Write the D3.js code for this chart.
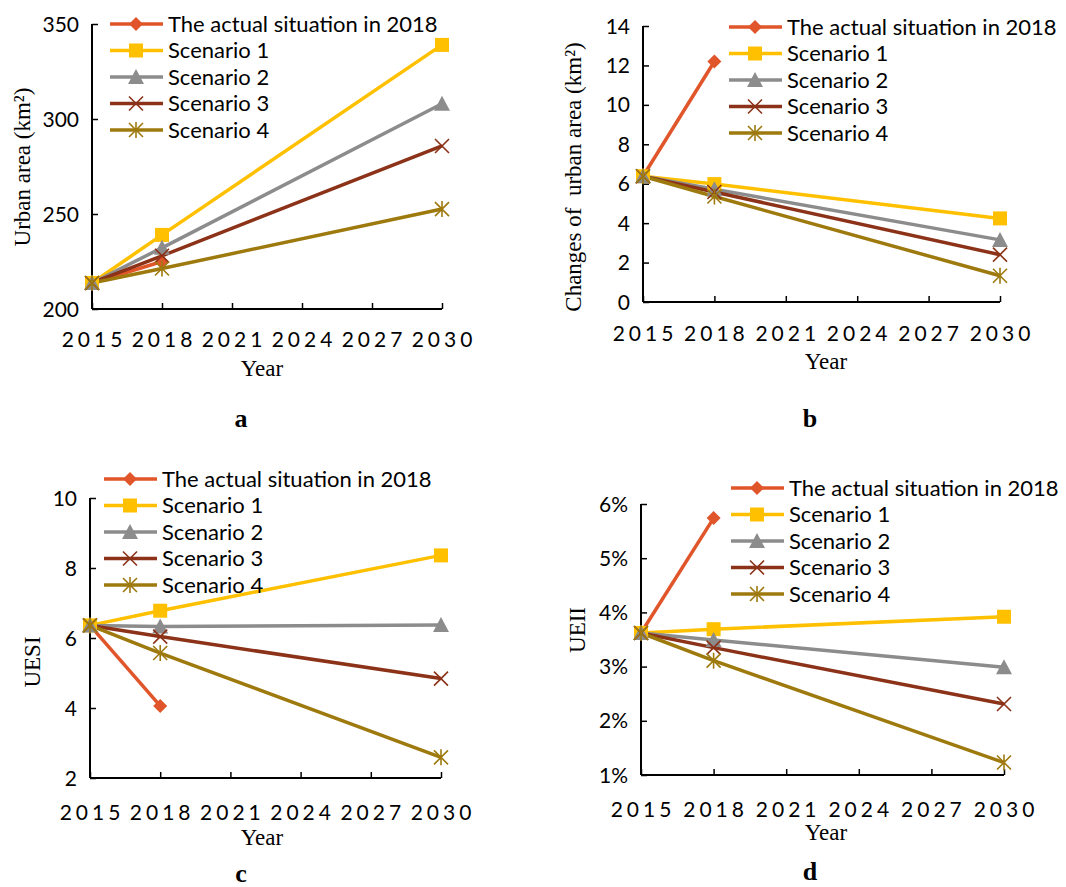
<!DOCTYPE html>
<html>
<head>
<meta charset="utf-8">
<script src="https://cdn.jsdelivr.net/npm/d3@7"></script>
<style>
  body { margin: 0; background: #fff; }
  svg { display: block; }
</style>
</head>
<body>
<div id="chart"></div>
<script>
// ---- data ----
const years = [2015, 2018, 2030];
const xTicks = [2015, 2018, 2021, 2024, 2027, 2030];
const seriesNames = ['The actual situation in 2018', 'Scenario 1', 'Scenario 2', 'Scenario 3', 'Scenario 4'];

// a: urban area (km²)
const areaActual = [213.7, 225.0];
const areaS1 = [213.7, 239.0, 339.0];
const areaS2 = [213.7, 232.2, 308.0];
const areaS3 = [213.7, 228.0, 285.8];
const areaS4 = [213.7, 221.3, 252.6];
const areaTicks = [200, 250, 300, 350];

// b: changes of urban area (km²)
const changeActual = [6.38, 12.2];
const changeS1 = [6.38, 5.98, 4.24];
const changeS2 = [6.38, 5.72, 3.15];
const changeS3 = [6.38, 5.58, 2.4];
const changeS4 = [6.38, 5.35, 1.33];
const changeTicks = [0, 2, 4, 6, 8, 10, 12, 14];

// c: UESI
const uesiActual = [6.36, 4.06];
const uesiS1 = [6.36, 6.78, 8.36];
const uesiS2 = [6.36, 6.33, 6.37];
const uesiS3 = [6.36, 6.04, 4.84];
const uesiS4 = [6.36, 5.57, 2.59];
const uesiTicks = [2, 4, 6, 8, 10];

// d: UEII
const ueiiActual = [0.0362, 0.0574];
const ueiiS1 = [0.0362, 0.0369, 0.0392];
const ueiiS2 = [0.0362, 0.0349, 0.0299];
const ueiiS3 = [0.0362, 0.0335, 0.0231];
const ueiiS4 = [0.0362, 0.0311, 0.0123];
const ueiiTicks = [0.01, 0.02, 0.03, 0.04, 0.05, 0.06];

const colors = ['#e0552a', '#ffc000', '#8c8c8c', '#8b3218', '#9e7a0e'];
const markers = ['diamond', 'square', 'triangle', 'cross', 'star'];

const panels = [
  { label: 'a', series: [areaActual, areaS1, areaS2, areaS3, areaS4], ticks: areaTicks, fmt: d3.format('d'),
    yTitle: 'Urban area (km²)', box: [92, 442, 24, 309], legend: [110, 24], labelPos: [241, 418],
    yTitlePos: [22, 167], xTitlePos: [262, 368], tickY: 347 },
  { label: 'b', series: [changeActual, changeS1, changeS2, changeS3, changeS4], ticks: changeTicks, fmt: d3.format('d'),
    yTitle: 'Changes of  urban area (km²)', box: [643, 1000, 26, 302], legend: [729, 27], labelPos: [810, 418],
    yTitlePos: [573, 177], xTitlePos: [826, 361], tickY: 341 },
  { label: 'c', series: [uesiActual, uesiS1, uesiS2, uesiS3, uesiS4], ticks: uesiTicks, fmt: d3.format('d'),
    yTitle: 'UESI', box: [90, 441, 498, 778], legend: [104, 479], labelPos: [241, 873],
    yTitlePos: [32, 662], xTitlePos: [262, 837], tickY: 820 },
  { label: 'd', series: [ueiiActual, ueiiS1, ueiiS2, ueiiS3, ueiiS4], ticks: ueiiTicks, fmt: d3.format('.0%'),
    yTitle: 'UEII', box: [641, 1004, 504, 775], legend: [731, 488], labelPos: [810, 871],
    yTitlePos: [577, 630], xTitlePos: [826, 832], tickY: 817 }
];

const svg = d3.select('#chart').append('svg')
  .attr('width', 1066)
  .attr('height', 887);

const sansFont = 'Lato, "Open Sans", sans-serif';
const serifFont = '"Liberation Serif", "DejaVu Serif", serif';

function drawMarker(g, type, color, x, y) {
  const s = 7;
  if (type === 'diamond') {
    g.append('path').attr('d', `M${x},${y - s}L${x + s},${y}L${x},${y + s}L${x - s},${y}Z`).attr('fill', color);
  } else if (type === 'square') {
    g.append('rect').attr('x', x - s).attr('y', y - s).attr('width', 2 * s).attr('height', 2 * s).attr('fill', color);
  } else if (type === 'triangle') {
    g.append('path').attr('d', `M${x},${y - s - 1}L${x + s + 1},${y + s}L${x - s - 1},${y + s}Z`).attr('fill', color);
  } else if (type === 'cross') {
    g.append('path').attr('d', `M${x - s},${y - s}L${x + s},${y + s}M${x + s},${y - s}L${x - s},${y + s}`)
      .attr('stroke', color).attr('stroke-width', 1.6);
  } else if (type === 'star') {
    g.append('path').attr('d', `M${x - s},${y - s}L${x + s},${y + s}M${x + s},${y - s}L${x - s},${y + s}M${x},${y - s - 1}L${x},${y + s + 1}`)
      .attr('stroke', color).attr('stroke-width', 1.6);
  }
}

panels.forEach(p => {
  const [x0, x1, y0, y1] = p.box;
  const g = svg.append('g');

  const x = d3.scaleLinear().domain([2015, 2030]).range([x0, x1]);
  const y = d3.scaleLinear().domain(d3.extent(p.ticks)).range([y1, y0]);

  // Y axis (ticks point inward)
  const yAxis = g.append('g')
    .attr('transform', `translate(${x0},0)`)
    .call(d3.axisRight(y).tickValues(p.ticks).tickSize(6).tickFormat(''));
  yAxis.select('.domain').attr('stroke', '#000').attr('stroke-width', 2).attr('d', `M0,${y0}V${y1}`);
  yAxis.selectAll('.tick line').attr('stroke', '#000').attr('stroke-width', 1.5);

  g.selectAll('.ylab')
    .data(p.ticks)
    .enter()
    .append('text')
    .attr('x', x0 - 13)
    .attr('y', d => y(d) + 7.5)
    .attr('text-anchor', 'end')
    .style('font-family', sansFont)
    .style('font-size', '21px')
    .attr('fill', '#000')
    .text(d => p.fmt(d));

  // X axis
  const xAxis = g.append('g')
    .attr('transform', `translate(0,${y1})`)
    .call(d3.axisTop(x).tickValues(xTicks).tickSize(6).tickFormat(''));
  xAxis.select('.domain').attr('stroke', '#000').attr('stroke-width', 2).attr('d', `M${x0},0H${x1}`);
  xAxis.selectAll('.tick line').attr('stroke', '#000').attr('stroke-width', 1.5);

  g.selectAll('.xlab')
    .data(xTicks)
    .enter()
    .append('text')
    .attr('x', d => x(d) + 2)
    .attr('y', p.tickY)
    .attr('text-anchor', 'middle')
    .style('font-family', sansFont)
    .style('font-size', '21px')
    .style('letter-spacing', '4px')
    .attr('fill', '#000')
    .text(d => d);

  // titles
  g.append('text')
    .attr('transform', `translate(${p.yTitlePos[0]},${p.yTitlePos[1]}) rotate(-90)`)
    .attr('text-anchor', 'middle')
    .attr('dy', '0.35em')
    .style('font-family', serifFont)
    .style('font-size', '23px')
    .style('white-space', 'pre')
    .text(p.yTitle);

  g.append('text')
    .attr('x', p.xTitlePos[0])
    .attr('y', p.xTitlePos[1])
    .attr('text-anchor', 'middle')
    .attr('dy', '0.35em')
    .style('font-family', serifFont)
    .style('font-size', '23px')
    .text('Year');

  g.append('text')
    .attr('x', p.labelPos[0])
    .attr('y', p.labelPos[1])
    .attr('text-anchor', 'middle')
    .attr('dy', '0.35em')
    .style('font-family', serifFont)
    .style('font-size', '26px')
    .style('font-weight', 'bold')
    .text(p.label);

  // series
  const line = d3.line()
    .x((d, i) => x(years[i]))
    .y(d => y(d));

  p.series.forEach((vals, si) => {
    g.append('path')
      .datum(vals)
      .attr('fill', 'none')
      .attr('stroke', colors[si])
      .attr('stroke-width', 3.5)
      .attr('d', line);
  });
  p.series.forEach((vals, si) => {
    const mg = g.append('g');
    vals.forEach((v, i) => drawMarker(mg, markers[si], colors[si], x(years[i]), y(v)));
  });

  // legend
  const lg = g.append('g').attr('transform', `translate(${p.legend[0]},${p.legend[1]})`);
  seriesNames.forEach((name, si) => {
    const ly = si * 26.5;
    lg.append('line')
      .attr('x1', 0).attr('x2', 53)
      .attr('y1', ly).attr('y2', ly)
      .attr('stroke', colors[si])
      .attr('stroke-width', 3.5);
    drawMarker(lg, markers[si], colors[si], 26, ly);
    lg.append('text')
      .attr('x', 58)
      .attr('y', ly)
      .attr('dy', '0.35em')
      .style('font-family', sansFont)
      .style('font-size', '22px')
      .attr('fill', '#000')
      .text(name);
  });
});
</script>
</body>
</html>
